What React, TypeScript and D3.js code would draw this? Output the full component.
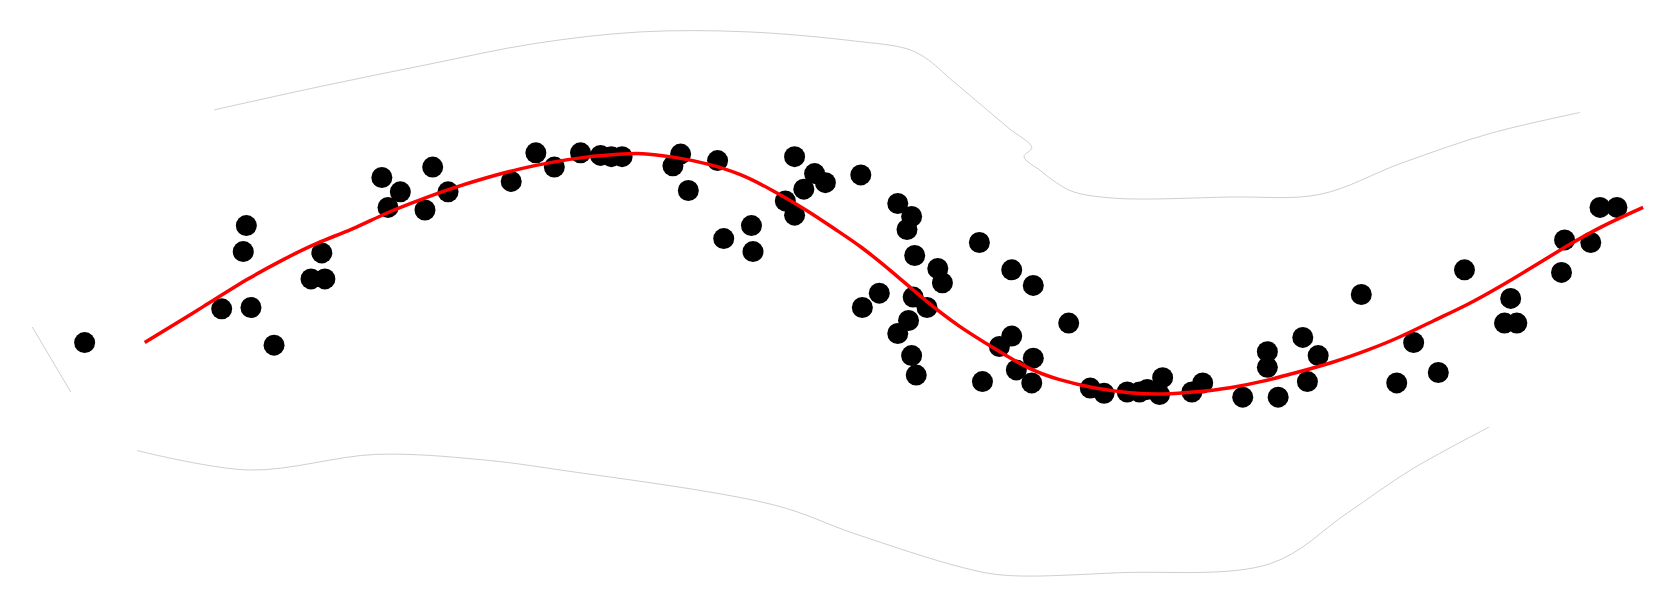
import React from "react";
import * as d3 from "d3";

const width = 1676;
const height = 605;

// observed samples
const pointX = [
  0.16, 1.21, 1.19, 1.05, 1.24, 1.39, 1.63, 1.72, 1.70, 2.09,
  2.21, 2.13, 2.37, 2.42, 2.52, 2.93, 3.09, 3.21, 3.38, 3.51,
  3.58, 3.65, 3.98, 4.03, 4.08, 4.27, 4.31, 4.49, 4.50, 4.77,
  4.90, 4.97, 4.83, 4.71, 4.77, 5.20, 5.44, 5.53, 5.50, 5.55,
  5.70, 5.73, 5.97, 6.18, 6.32, 5.32, 5.21, 5.54, 5.63, 5.51,
  5.44, 5.53, 5.56, 5.99, 6.18, 6.10, 6.32, 6.21, 6.31, 6.55,
  6.69, 6.78, 6.93, 7.01, 7.06, 7.16, 7.14, 7.35, 7.42, 7.68,
  7.91, 7.84, 7.84, 8.07, 8.17, 8.10, 8.45, 8.68, 8.79, 8.95,
  9.12, 9.42, 9.38, 9.46, 9.75, 9.77, 9.94, 10.0, 10.11
];
const pointY = [
  -0.52, 0.38, 0.18, -0.26, -0.25, -0.54, -0.03, -0.03, 0.17, 0.75,
  0.64, 0.52, 0.50, 0.83, 0.64, 0.72, 0.94, 0.83, 0.94, 0.92,
  0.91, 0.91, 0.84, 0.93, 0.65, 0.88, 0.28, 0.38, 0.18, 0.91,
  0.78, 0.71, 0.66, 0.57, 0.46, 0.77, 0.55, 0.45, 0.35, 0.15,
  0.05, -0.06, 0.25, 0.04, -0.08, -0.14, -0.25, -0.17, -0.25, -0.35,
  -0.45, -0.62, -0.77, -0.82, -0.47, -0.55, -0.64, -0.73, -0.83, -0.37,
  -0.87, -0.91, -0.90, -0.90, -0.88, -0.79, -0.92, -0.90, -0.83, -0.94,
  -0.94, -0.59, -0.71, -0.48, -0.62, -0.82, -0.15, -0.83, -0.52, -0.75,
  0.04, -0.18, -0.37, -0.37, 0.02, 0.27, 0.25, 0.52, 0.52
];

// smoothed fit
const fitX = [
  0.55, 0.95, 1.23, 1.45, 1.67, 1.90, 2.12, 2.34, 2.55, 2.77,
  2.99, 3.20, 3.42, 3.64, 3.77, 3.98, 4.20, 4.42, 4.63, 4.85,
  5.06, 5.19, 5.41, 5.63, 5.84, 6.06, 6.28, 6.49, 6.71, 6.95,
  7.16, 7.38, 7.60, 7.81, 8.03, 8.25, 8.49, 8.70, 8.92, 9.14,
  9.35, 9.56, 9.78, 10.0, 10.28
];
const fitY = [
  -0.52, -0.23, -0.02, 0.12, 0.25, 0.35, 0.48, 0.58, 0.67, 0.75,
  0.82, 0.87, 0.91, 0.93, 0.94, 0.91, 0.86, 0.78, 0.65, 0.50,
  0.33, 0.23, 0.02, -0.21, -0.40, -0.56, -0.72, -0.81, -0.87, -0.91,
  -0.92, -0.90, -0.87, -0.82, -0.75, -0.68, -0.58, -0.48, -0.35, -0.23,
  -0.09, 0.06, 0.22, 0.37, 0.52
];

// band edges
const upperX = [1.00, 1.69, 2.39, 3.08, 3.77, 4.47, 5.16, 5.50, 5.62, 5.80, 5.98, 6.16, 6.31, 6.26, 6.37, 6.47, 6.58, 6.86, 7.60, 8.18, 8.71, 9.29, 9.87];
const upperY = [1.27, 1.45, 1.62, 1.78, 1.87, 1.87, 1.80, 1.74, 1.67, 1.49, 1.31, 1.13, 0.98, 0.91, 0.80, 0.71, 0.64, 0.59, 0.60, 0.62, 0.86, 1.09, 1.25];
const leftX = [-0.18, 0.07];
const leftY = [-0.40, -0.90];
const lowerX = [0.50, 1.23, 2.05, 2.73, 3.25, 4.64, 5.16, 5.86, 6.14, 6.88, 7.86, 8.36, 8.77, 9.28];
const lowerY = [-1.35, -1.50, -1.38, -1.42, -1.50, -1.77, -1.99, -2.25, -2.31, -2.29, -2.22, -1.83, -1.50, -1.17];

const x = d3.scaleLinear().domain([0, 10]).range([60, 1600]);
const y = d3.scaleLinear().domain([-2, 2]).range([535, 15]);

const zip = (xs: number[], ys: number[]) => xs.map((v, i) => [v, ys[i]] as [number, number]);

const edge = d3.line<[number, number]>().x(d => x(d[0])).y(d => y(d[1])).curve(d3.curveCatmullRom.alpha(0.5));
const smooth = d3.line<[number, number]>().x(d => x(d[0])).y(d => y(d[1])).curve(d3.curveBasis);

export default function App() {
  const points = zip(pointX, pointY);
  return (
    <svg width={width} height={height} style={{ position: "absolute", left: 0, top: 0, display: "block", background: "#fff" }}>
      <g fill="none" stroke="#cfcfcf" strokeWidth={1}>
        <path d={edge(zip(upperX, upperY)) || ""} />
        <path d={edge(zip(leftX, leftY)) || ""} />
        <path d={edge(zip(lowerX, lowerY)) || ""} />
      </g>
      <g fill="#000">
        {points.map((d, i) => (
          <circle key={i} cx={x(d[0])} cy={y(d[1])} r={10.5} />
        ))}
      </g>
      <path d={smooth(zip(fitX, fitY)) || ""} fill="none" stroke="#ff0000" strokeWidth={3.5} />
    </svg>
  );
}
